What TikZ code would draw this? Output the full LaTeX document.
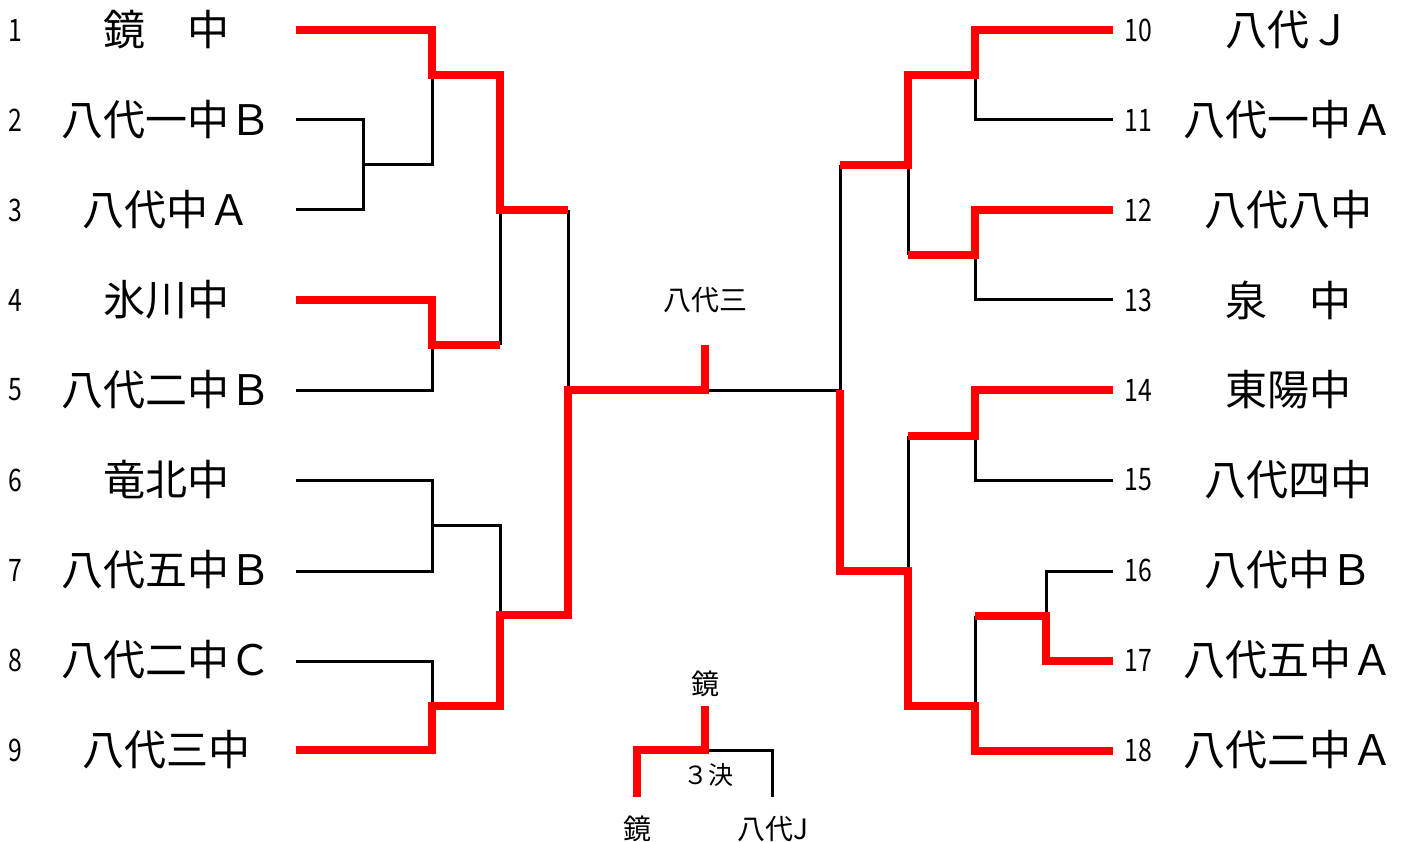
\documentclass[tikz,border=0pt]{standalone}
\usepackage{fontspec}
\setmainfont{Noto Sans CJK JP}
\newfontfamily\numfont[FakeStretch=0.8]{Noto Sans CJK JP}
\usepackage{tikz}

\tikzset{
  team/.style={font=\fontsize{42}{46}\selectfont, inner sep=0pt},
  seed/.style={font=\numfont\fontsize{31}{34}\selectfont, inner sep=0pt},
  small/.style={font=\fontsize{28}{30}\selectfont, inner sep=0pt},
  loser/.style={line width=3pt, black},
  winner/.style={line width=7.5pt, red, line join=miter}
}

\begin{document}
\begin{tikzpicture}[x=1pt,y=-1pt,join=miter] %Bracket with 18 teams
        \useasboundingbox (0,0) rectangle (1411,842);
        % black lines first
        \draw[loser](296,120)--(363,120)--(363,210)--(296,210);
        \draw[loser](363,165)--(432,165)--(432,75);
        \draw[loser](500,210)--(500,345);
        \draw[loser](568,210)--(568,390);
        \draw[loser](296,390)--(432,390)--(432,345);
        \draw[loser](296,480)--(432,480)--(432,571)--(296,571);
        \draw[loser](432,525)--(500,525)--(500,615);
        \draw[loser](296,661)--(432,661)--(432,706);
        \draw[loser](705,390)--(840,390)--(840,165);
        \draw[loser](1113,120)--(975,120)--(975,75);
        \draw[loser](908,165)--(908,255);
        \draw[loser](1113,300)--(975,300)--(975,255);
        \draw[loser](1113,480)--(975,480)--(975,436);
        \draw[loser](908,436)--(908,571);
        \draw[loser](1113,571)--(1046,571)--(1046,616);
        \draw[loser](975,616)--(975,706);
        \draw[loser](705,750)--(772,750)--(772,797);
        % red lines on top
        \draw[winner](296,30)--(432,30)--(432,75)--(500,75)--(500,210)--(568,210);
        \draw[winner](296,300)--(432,300)--(432,345)--(500,345);
        \draw[winner](296,750)--(432,750)--(432,706)--(500,706)--(500,615)--(568,615)--(568,390)--(705,390)--(705,345);
        \draw[winner](1113,30)--(975,30)--(975,75)--(908,75)--(908,165)--(840,165);
        \draw[winner](1113,210)--(975,210)--(975,255)--(908,255);
        \draw[winner](1113,390)--(975,390)--(975,436)--(908,436);
        \draw[winner](1113,751)--(975,751)--(975,706)--(908,706)--(908,571)--(840,571)--(840,390);
        \draw[winner](1113,661)--(1046,661)--(1046,616)--(975,616);
        \draw[winner](637,797)--(637,750)--(705,750)--(705,706);
        % seeds and teams
        \path
                (15,30) node[seed] (s1) {1}
                (15,120) node[seed] (s2) {2}
                (15,210) node[seed] (s3) {3}
                (15,300) node[seed] (s4) {4}
                (15,390) node[seed] (s5) {5}
                (15,480) node[seed] (s6) {6}
                (15,570) node[seed] (s7) {7}
                (15,660) node[seed] (s8) {8}
                (15,750) node[seed] (s9) {9}
                (1138,30) node[seed] (s10) {10}
                (1138,120) node[seed] (s11) {11}
                (1138,210) node[seed] (s12) {12}
                (1138,300) node[seed] (s13) {13}
                (1138,390) node[seed] (s14) {14}
                (1138,480) node[seed] (s15) {15}
                (1138,570) node[seed] (s16) {16}
                (1138,660) node[seed] (s17) {17}
                (1138,750) node[seed] (s18) {18};
        \path
                (166,30) node[team] (t1) {鏡　中}
                (166,120) node[team] (t2) {八代一中Ｂ}
                (166,210) node[team] (t3) {八代中Ａ}
                (166,300) node[team] (t4) {氷川中}
                (166,390) node[team] (t5) {八代二中Ｂ}
                (166,480) node[team] (t6) {竜北中}
                (166,570) node[team] (t7) {八代五中Ｂ}
                (166,660) node[team] (t8) {八代二中Ｃ}
                (166,750) node[team] (t9) {八代三中}
                (1288,30) node[team] (t10) {八代Ｊ}
                (1288,120) node[team] (t11) {八代一中Ａ}
                (1288,210) node[team] (t12) {八代八中}
                (1288,300) node[team] (t13) {泉　中}
                (1288,390) node[team] (t14) {東陽中}
                (1288,480) node[team] (t15) {八代四中}
                (1288,570) node[team] (t16) {八代中Ｂ}
                (1288,660) node[team] (t17) {八代五中Ａ}
                (1288,750) node[team] (t18) {八代二中Ａ};
        % champion and third place
        \path
                (705,300) node[small] (champ) {八代三}
                (705,684) node[small] (third) {鏡}
                (708,775) node[small,font=\fontsize{25}{28}\selectfont] (thirdlbl) {３決}
                (637,829) node[small] (thirdl) {鏡}
                (773,829) node[small] (thirdr) {八代J};
    \end{tikzpicture}
\end{document}
